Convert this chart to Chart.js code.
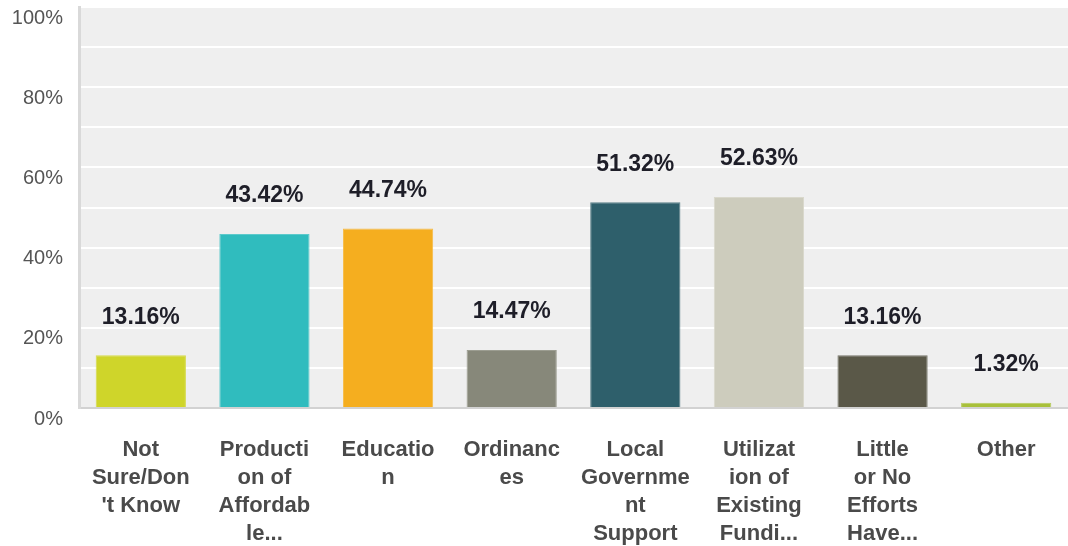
<!DOCTYPE html>
<html>
<head>
<meta charset="utf-8">
<script src="https://cdn.jsdelivr.net/npm/chart.js@4.4.1/dist/chart.umd.min.js"></script>
<style>
  html, body { margin: 0; padding: 0; background: #fff; }
  #chart { display: block; }
</style>
</head>
<body>
<canvas id="chart" width="1068" height="546"></canvas>
<script>
// --- data ---
const categories = [
    ['Not', 'Sure/Don', "'t Know"],
    ['Producti', 'on of', 'Affordab', 'le...'],
    ['Educatio', 'n'],
    ['Ordinanc', 'es'],
    ['Local', 'Governme', 'nt', 'Support'],
    ['Utilizat', 'ion of', 'Existing', 'Fundi...'],
    ['Little', 'or No', 'Efforts', 'Have...'],
    ['Other']
];
const percentValues = [13.16, 43.42, 44.74, 14.47, 51.32, 52.63, 13.16, 1.32];
const barColors = ['#cfd52a', '#30bcbe', '#f5ae1f', '#87887a', '#2e5f6b', '#cdccbd', '#5a5848', '#a8c03a'];
const barBorders = ['#d6db4a', '#5ccacc', '#f7bc48', '#9c9d91', '#5a8089', '#d9d8cc', '#77766a', '#b7cc5e'];

const FONT = '"Liberation Sans", Arial, sans-serif';

// plot background fill
const plotBg = {
    id: 'plotBg',
    beforeDraw(chart) {
        const { ctx, chartArea: a } = chart;
        ctx.save();
        ctx.fillStyle = '#efefef';
        ctx.fillRect(a.left, a.top, a.right - a.left, a.bottom - a.top);
        ctx.restore();
    }
};

// value labels above bars
const valueLabels = {
    id: 'valueLabels',
    afterDatasetsDraw(chart) {
        const ctx = chart.ctx;
        const meta = chart.getDatasetMeta(0);
        ctx.save();
        ctx.font = 'bold 23px ' + FONT;
        ctx.fillStyle = '#1e1e28';
        ctx.textAlign = 'center';
        ctx.textBaseline = 'middle';
        meta.data.forEach((bar, i) => {
            ctx.fillText(percentValues[i].toFixed(2) + '%', bar.x, bar.y - 38);
        });
        ctx.restore();
    }
};

new Chart(document.getElementById('chart'), {
    type: 'bar',
    data: {
        labels: categories,
        datasets: [{
            data: percentValues,
            backgroundColor: barColors,
            borderColor: barBorders,
            borderWidth: 1,
            barPercentage: 0.73,
            categoryPercentage: 1
        }]
    },
    options: {
        responsive: false,
        animation: false,
        layout: { padding: { top: 7, right: 0, left: 0, bottom: 0 } },
        plugins: { legend: { display: false }, tooltip: { enabled: false } },
        scales: {
            x: {
                grid: { display: false, drawTicks: false },
                border: { color: '#d2d2d2', width: 2 },
                ticks: {
                    color: '#4a4a4a',
                    font: { family: FONT, size: 22, weight: 'bold', lineHeight: 28 / 22 },
                    padding: 28,
                    maxRotation: 0,
                    autoSkip: false
                },
                afterFit(scale) {
                    scale.height = 138;
                    scale.paddingLeft = 0;
                    scale.paddingRight = 0;
                }
            },
            y: {
                min: 0,
                max: 100,
                grid: { color: '#ffffff', lineWidth: 2, drawTicks: false },
                border: { color: '#d9d9d9', width: 3 },
                ticks: {
                    stepSize: 10,
                    autoSkip: false,
                    color: '#555555',
                    font: { family: FONT, size: 20 },
                    padding: 16,
                    labelOffset: 11,
                    callback: v => (v % 20 === 0 ? v + '%' : '')
                },
                afterFit(scale) {
                    scale.width = 79;
                    scale.paddingTop = 0;
                    scale.paddingBottom = 0;
                }
            }
        }
    },
    plugins: [plotBg, valueLabels]
});
</script>
</body>
</html>
